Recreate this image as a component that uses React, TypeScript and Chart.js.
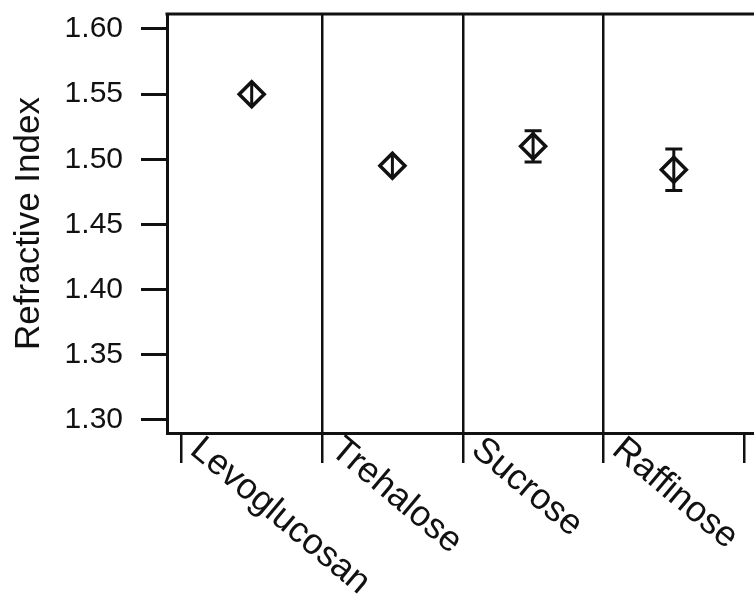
import React, { useEffect, useRef } from "react";
import { Chart, registerables } from "chart.js";

Chart.register(...registerables);

const categories = ["Levoglucosan", "Trehalose", "Sucrose", "Raffinose"];
const refractiveIndex = [1.55, 1.495, 1.51, 1.492];
const errors = [0.008, 0.008, 0.012, 0.016];
const yTickValues = [1.3, 1.35, 1.4, 1.45, 1.5, 1.55, 1.6];
const xBoundaries = [-0.5, 0.5, 1.5, 2.5, 3.5];

const INK = "#111";
const FONT = "'Liberation Sans', Arial, sans-serif";

const decorPlugin = {
  id: "decor",
  afterDatasetsDraw(chart: any) {
    const ctx = chart.ctx;
    const ys = chart.scales.y;
    const meta = chart.getDatasetMeta(0);
    const ds = chart.data.datasets[0];
    ctx.save();
    ctx.strokeStyle = INK;
    ctx.lineWidth = 3;
    meta.data.forEach((pt: any, i: number) => {
      const v = ds.data[i].y;
      const e = errors[i];
      const yTop = ys.getPixelForValue(v + e);
      const yBot = ys.getPixelForValue(v - e);
      const x = pt.x;
      ctx.beginPath();
      ctx.moveTo(x, yTop);
      ctx.lineTo(x, yBot);
      ctx.stroke();
      const r = ds.pointRadius;
      if (Math.abs(yBot - yTop) / 2 > r + 2) {
        ctx.beginPath();
        ctx.moveTo(x - 8.5, yTop);
        ctx.lineTo(x + 8.5, yTop);
        ctx.moveTo(x - 8.5, yBot);
        ctx.lineTo(x + 8.5, yBot);
        ctx.stroke();
      }
    });
    ctx.restore();
  },
  afterDraw(chart: any) {
    const ctx = chart.ctx;
    const area = chart.chartArea;
    const xs = chart.scales.x;
    ctx.save();
    ctx.strokeStyle = INK;
    ctx.lineWidth = 3;
    ctx.beginPath();
    ctx.moveTo(area.left - 1.5, area.top);
    ctx.lineTo(area.right, area.top);
    ctx.stroke();
    ctx.fillStyle = INK;
    ctx.font = `36px ${FONT}`;
    ctx.textAlign = "left";
    ctx.textBaseline = "top";
    categories.forEach((c, i) => {
      const x = xs.getPixelForValue(i - 0.5) + 25;
      const y = area.bottom - 2;
      ctx.save();
      ctx.translate(x, y);
      ctx.rotate((40 * Math.PI) / 180);
      ctx.fillText(c, 0, 0);
      ctx.restore();
    });
    ctx.restore();
  },
};

export default function App() {
  const ref = useRef<HTMLCanvasElement | null>(null);
  useEffect(() => {
    if (!ref.current) return;
    const chart = new Chart(ref.current, {
      type: "scatter",
      data: {
        datasets: [
          {
            data: categories.map((_, i) => ({ x: i, y: refractiveIndex[i] })),
            pointStyle: "rectRot",
            pointRadius: 12.5,
            pointBorderWidth: 3.5,
            pointBorderColor: INK,
            pointBackgroundColor: "rgba(255,255,255,0)",
            showLine: false,
          } as any,
        ],
      },
      plugins: [decorPlugin],
      options: {
        responsive: false,
        animation: false,
        layout: { autoPadding: false, padding: { top: 14, left: 0, right: 0, bottom: 0 } },
        plugins: {
          legend: { display: false },
          tooltip: { enabled: false },
        },
        scales: {
          x: {
            type: "linear",
            min: -0.602,
            max: 3.57,
            afterBuildTicks: (s: any) => {
              s.ticks = xBoundaries.map((v) => ({ value: v }));
            },
            afterFit: (s: any) => {
              s.height = 161;
              s.paddingLeft = 0;
              s.paddingRight = 0;
            },
            ticks: { display: false },
            grid: {
              drawOnChartArea: true,
              drawTicks: true,
              tickLength: 30,
              lineWidth: 2.5,
              color: (c: any) =>
                c.tick && (c.tick.value === -0.5 || c.tick.value === 3.5)
                  ? "rgba(0,0,0,0)"
                  : INK,
              tickColor: INK,
              tickWidth: 2.5,
            },
            border: { display: true, color: INK, width: 3 },
          },
          y: {
            type: "linear",
            min: 1.29,
            max: 1.6115,
            afterBuildTicks: (s: any) => {
              s.ticks = yTickValues.map((v) => ({ value: v }));
            },
            afterFit: (s: any) => {
              s.width = 167;
              s.paddingTop = 0;
              s.paddingBottom = 0;
            },
            ticks: {
              color: INK,
              font: { family: FONT, size: 30 },
              padding: 18,
              callback: (v: any) => Number(v).toFixed(2),
            },
            grid: {
              drawOnChartArea: false,
              drawTicks: true,
              tickLength: 26,
              color: INK,
              tickColor: INK,
              tickWidth: 3,
              lineWidth: 3,
            },
            border: { display: true, color: INK, width: 3 },
            title: {
              display: true,
              text: "Refractive Index",
              color: INK,
              font: { family: FONT, size: 35 },
              padding: { top: 8, bottom: 0 },
            },
          },
        },
      } as any,
    });
    return () => chart.destroy();
  }, []);
  return (
    <div style={{ position: "absolute", left: 0, top: 0, width: 754, height: 594, background: "#fff" }}>
      <canvas ref={ref} width={754} height={594} style={{ display: "block" }} />
    </div>
  );
}
